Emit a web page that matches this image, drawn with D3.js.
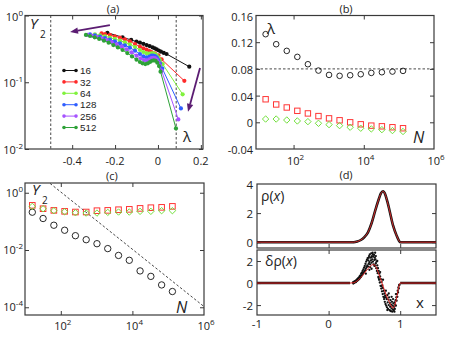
<!DOCTYPE html>
<html><head><meta charset="utf-8">
<script src="https://cdn.jsdelivr.net/npm/d3@7"></script>
<style>
body{margin:0;background:#fff}
svg{display:block;font-family:"Open Sans",sans-serif}
</style></head><body>
<svg id="fig" width="469" height="338"></svg>
<script>
// ---- panel (a): Y2 against lambda, one series per size
const sizes = [16, 32, 64, 128, 256, 512];
const lam16 = [-0.236, -0.165, -0.125, -0.100, -0.084, -0.068, -0.053, -0.039, -0.025, -0.015, -0.006, 0.004, 0.014, 0.027, 0.040, 0.146];
const y2_16 = [0.552, 0.471, 0.430, 0.406, 0.392, 0.377, 0.361, 0.348, 0.333, 0.322, 0.311, 0.299, 0.287, 0.275, 0.265, 0.171];
const lam32 = [-0.263, -0.247, -0.224, -0.201, -0.177, -0.154, -0.131, -0.107, -0.084, -0.068, -0.053, -0.040, -0.030, -0.014, 0.002, 0.017, 0.123];
const y2_32 = [0.541, 0.528, 0.511, 0.488, 0.466, 0.440, 0.410, 0.374, 0.341, 0.322, 0.308, 0.294, 0.284, 0.271, 0.253, 0.220, 0.105];
const lam64 = [-0.294, -0.270, -0.247, -0.224, -0.201, -0.177, -0.154, -0.131, -0.107, -0.084, -0.068, -0.053, -0.040, -0.030, -0.022, -0.014, -0.006, 0.002, 0.009, 0.022, 0.115];
const y2_64 = [0.522, 0.505, 0.488, 0.466, 0.445, 0.420, 0.396, 0.370, 0.337, 0.304, 0.284, 0.271, 0.268, 0.271, 0.271, 0.265, 0.253, 0.236, 0.215, 0.187, 0.066];
const lam128 = [-0.317, -0.294, -0.270, -0.247, -0.224, -0.201, -0.177, -0.154, -0.131, -0.107, -0.084, -0.068, -0.053, -0.040, -0.030, -0.022, -0.014, -0.006, 0.002, 0.009, 0.020, 0.107];
const y2_128 = [0.522, 0.505, 0.482, 0.460, 0.435, 0.410, 0.383, 0.357, 0.330, 0.297, 0.265, 0.244, 0.236, 0.242, 0.250, 0.250, 0.247, 0.236, 0.215, 0.192, 0.161, 0.0406];
const lam256 = [-0.329, -0.309, -0.286, -0.263, -0.239, -0.216, -0.193, -0.169, -0.146, -0.123, -0.100, -0.081, -0.065, -0.053, -0.040, -0.030, -0.022, -0.014, -0.006, 0.002, 0.009, 0.017, 0.095];
const y2_256 = [0.511, 0.499, 0.477, 0.455, 0.430, 0.401, 0.370, 0.341, 0.311, 0.281, 0.250, 0.228, 0.215, 0.213, 0.220, 0.231, 0.233, 0.231, 0.220, 0.201, 0.179, 0.149, 0.0277];
const lam512 = [-0.336, -0.317, -0.295, -0.274, -0.252, -0.230, -0.208, -0.187, -0.165, -0.143, -0.121, -0.100, -0.084, -0.072, -0.059, -0.047, -0.037, -0.028, -0.019, -0.011, -0.003, 0.005, 0.012, 0.084];
const y2_512 = [0.511, 0.493, 0.471, 0.445, 0.420, 0.392, 0.361, 0.333, 0.304, 0.274, 0.244, 0.218, 0.201, 0.192, 0.187, 0.192, 0.201, 0.210, 0.213, 0.210, 0.196, 0.175, 0.144, 0.0203];
const lamCritical = [-0.5, 0.085];
const arrowFrom = [[-0.224, 0.72], [0.196, 0.163]];
const arrowTo = [[-0.41, 0.566], [0.14, 0.036]];

// ---- panels (b) and (c): against system size N
const sizesN = [16, 32, 64, 128, 256, 512, 1024, 2048, 4096, 8192, 16384, 32768, 65536, 131072];
const lamN = [0.132, 0.117, 0.107, 0.098, 0.087, 0.0775, 0.071, 0.0696, 0.0705, 0.072, 0.074, 0.075, 0.076, 0.077];
const redB = [0.0345, 0.0267, 0.0222, 0.0172, 0.0133, 0.0093, 0.0059, 0.003, 0.0, -0.003, -0.005, -0.006, -0.0074, -0.0089];
const greenB = [0.0049, 0.0049, 0.0034, 0.002, 0.001, -0.0015, -0.0035, -0.005, -0.0074, -0.0089, -0.0099, -0.011, -0.0124, -0.0138];
const lamLimit = 0.08;
const blackC = [0.209, 0.126, 0.0733, 0.049, 0.0316, 0.0229, 0.0166, 0.0112, 0.00646, 0.00437, 0.00186, 0.0012, 0.000603, 0.000355];
const redC = [0.363, 0.277, 0.242, 0.224, 0.212, 0.212, 0.236, 0.242, 0.255, 0.263, 0.284, 0.300, 0.309, 0.334];
const greenC = [0.334, 0.277, 0.236, 0.217, 0.200, 0.195, 0.195, 0.206, 0.212, 0.212, 0.224, 0.224, 0.236, 0.236];
const refN = [40, 1e6];
const refY = [2.65, 1.06e-4];

// ---- panel (d): density and its deviation
const rhoX = [-1, 0.35, 0.40, 0.45, 0.50, 0.55, 0.60, 0.65, 0.70, 0.73, 0.76, 0.79, 0.82, 0.85, 0.90, 0.95, 0.98, 1.00, 1.5];
const rhoY = [0, 0, 0.05, 0.15, 0.35, 0.68, 1.3, 2.15, 2.95, 3.35, 3.5, 3.3, 2.8, 2.2, 1.15, 0.45, 0.12, 0, 0];
const drhoX = [-1, 0.30, 0.35, 0.40, 0.45, 0.50, 0.55, 0.60, 0.63, 0.66, 0.70, 0.745, 0.80, 0.85, 0.90, 0.93, 0.96, 0.98, 1.00, 1.5];
const drhoY = [0, 0, 0.03, 0.2, 0.5, 0.9, 1.3, 1.62, 1.68, 1.5, 0.85, 0, -1.0, -1.75, -2.27, -1.9, -1.0, -0.35, 0, 0];
const drhoDots = [
  [0.340,0.05],[0.345,-0.04],[0.350,0.08],[0.355,0.02],[0.360,0.14],[0.365,0.05],[0.370,0.12],[0.375,0.20],
  [0.380,0.08],[0.385,0.25],[0.390,0.16],[0.395,0.30],[0.400,0.22],[0.405,0.38],[0.410,0.27],[0.415,0.45],
  [0.420,0.33],[0.425,0.52],[0.430,0.40],[0.435,0.62],[0.440,0.48],[0.445,0.70],[0.450,0.55],[0.455,0.85],
  [0.460,0.66],[0.465,0.95],[0.470,0.72],[0.475,1.10],[0.480,0.85],[0.485,1.25],[0.490,0.95],[0.495,1.40],
  [0.500,1.05],[0.505,1.55],[0.510,1.15],[0.515,1.75],[0.520,1.30],[0.525,1.95],[0.530,1.45],[0.535,2.10],
  [0.540,1.60],[0.545,2.25],[0.550,1.50],[0.555,2.05],[0.560,1.75],[0.565,2.45],[0.570,1.90],[0.575,2.60],
  [0.580,1.70],[0.585,2.30],[0.590,2.05],[0.595,2.70],[0.600,1.85],[0.605,2.45],[0.610,2.15],[0.615,2.75],
  [0.620,1.95],[0.625,2.40],[0.630,1.70],[0.635,2.55],[0.640,2.10],[0.645,2.30],[0.650,1.60],[0.655,2.15],
  [0.660,1.80],[0.665,1.35],[0.670,1.95],[0.675,1.10],[0.680,1.60],[0.685,0.90],[0.690,1.35],[0.695,0.55],
  [0.700,1.10],[0.705,0.30],[0.710,0.85],[0.715,0.05],[0.720,0.60],[0.725,-0.25],[0.730,0.35],[0.735,-0.50],
  [0.740,0.10],[0.745,-0.75],[0.750,-0.20],[0.755,-1.00],[0.760,-0.45],[0.765,-1.25],[0.770,-0.70],[0.775,-1.45],
  [0.780,-0.95],[0.785,-1.70],[0.790,-1.15],[0.795,-1.90],[0.800,-1.30],[0.805,-2.05],[0.810,-1.45],[0.815,-2.20],
  [0.820,-1.10],[0.825,-1.75],[0.830,-2.35],[0.835,-1.50],[0.840,-2.00],[0.845,-1.30],[0.850,-2.45],[0.855,-1.80],
  [0.860,-2.15],[0.865,-1.55],[0.870,-2.55],[0.875,-1.95],[0.880,-2.30],[0.885,-1.70],[0.890,-2.60],[0.895,-2.05],
  [0.900,-2.40],[0.905,-1.85],[0.910,-2.50],[0.915,-2.15],[0.920,-1.75],[0.925,-2.35],[0.930,-1.95],[0.935,-1.55],
  [0.940,-2.05],[0.945,-1.30],[0.950,-1.60],[0.955,-1.00],[0.960,-1.25],[0.965,-0.70],[0.970,-0.85],[0.975,-0.40],
  [0.980,-0.50],[0.985,-0.20],[0.990,-0.15],
  [0.52,0.85],[0.56,2.3],[0.58,1.45],[0.60,2.35],[0.62,2.6],[0.64,1.55],[0.66,2.45],[0.68,2.0],[0.70,0.45],
  [0.72,1.0],[0.74,-0.3],[0.76,0.3],[0.78,-1.3],[0.80,-0.7],[0.82,-2.45],[0.84,-0.95],[0.86,-2.5],[0.88,-1.25],
  [0.90,-1.45],[0.92,-2.6],[0.94,-1.0],[0.60,1.3],[0.65,2.75],[0.57,1.2]];

const sizeColors = ["#111111", "#ff2a2a", "#80f23c", "#2f5eff", "#a653ff", "#2ea238"];
const frameColor = "#3a3a3a";
const svg = d3.select("#fig");

// scales
const xa = d3.scaleLinear().domain([-0.62, 0.21]).range([25, 203]);
const ya = d3.scaleLog().domain([0.01, 1]).range([149, 15.5]);
const xb = d3.scaleLog().domain([Math.pow(10, 0.93), 1e6]).range([256, 434]);
const yb = d3.scaleLinear().domain([-0.04, 0.16]).range([149, 15.5]);
const xc = d3.scaleLog().domain([10, 1e6]).range([25, 204]);
const yc = d3.scaleLog().domain([Math.pow(10, -4.27), Math.pow(10, 0.34)]).range([315, 183]);
const xd = d3.scaleLinear().domain([-1, 1.5]).range([257, 436]);
const yd1 = d3.scaleLinear().domain([-0.4, 4]).range([248, 184]);
const yd2 = d3.scaleLinear().domain([-2.9, 3.0]).range([315, 250]);

// inward ticks on all four sides
function ticks(x, y, xt, yt, sides) {
  const g = svg.append("g").attr("stroke", frameColor);
  const [x0, x1] = x.range(), [y1, y0] = y.range();
  const s = sides || "tblr";
  const noLab = a => a.tickFormat("").tickSizeOuter(0);
  if (s.includes("b")) g.append("g").attr("transform", `translate(0,${y1})`).call(noLab(d3.axisBottom(x).tickValues(xt).tickSize(-4)));
  if (s.includes("t")) g.append("g").attr("transform", `translate(0,${y0})`).call(noLab(d3.axisTop(x).tickValues(xt).tickSize(-4)));
  if (s.includes("l")) g.append("g").attr("transform", `translate(${x0},0)`).call(noLab(d3.axisLeft(y).tickValues(yt).tickSize(-4)));
  if (s.includes("r")) g.append("g").attr("transform", `translate(${x1},0)`).call(noLab(d3.axisRight(y).tickValues(yt).tickSize(-4)));
  g.selectAll(".domain").remove();
  g.selectAll("line").attr("stroke", frameColor);
  svg.append("rect").attr("x", x0).attr("y", y0).attr("width", x1 - x0).attr("height", y1 - y0)
    .attr("fill", "none").attr("stroke", frameColor).attr("stroke-width", 1.2);
}

function label(x, y, txt, anchor, size) {
  return svg.append("text").attr("x", x).attr("y", y).attr("text-anchor", anchor || "middle")
    .attr("font-size", size || 11).attr("fill", "#222").text(txt);
}
function powLabel(x, y, e, anchor) {
  const t = svg.append("text").attr("x", x).attr("y", y).attr("text-anchor", anchor || "middle")
    .attr("font-size", 11).attr("fill", "#222");
  t.append("tspan").text("10");
  t.append("tspan").attr("dy", -5).attr("font-size", 8).text(e);
  return t;
}
const fmt = v => (v < 0 ? "-" : "") + String(Math.abs(v));

// ---------- panel (a)
svg.append("clipPath").attr("id", "clipA").append("rect")
  .attr("x", 25).attr("y", 15.5).attr("width", 178).attr("height", 133.5);
ticks(xa, ya, [-0.4, -0.2, 0, 0.2], [1, 0.1, 0.01]);
const gA = svg.append("g").attr("clip-path", "url(#clipA)");
lamCritical.forEach(v => gA.append("line").attr("x1", xa(v)).attr("x2", xa(v)).attr("y1", 15.5).attr("y2", 149)
  .attr("stroke", "#333").attr("stroke-width", 0.9).attr("stroke-dasharray", "2.5,2"));
const seriesA = [[lam16, y2_16], [lam32, y2_32], [lam64, y2_64], [lam128, y2_128], [lam256, y2_256], [lam512, y2_512]];
seriesA.forEach(([lx, ly], i) => {
  const pts = lx.map((v, j) => [v, ly[j]]);
  gA.append("path").datum(pts).attr("fill", "none").attr("stroke", sizeColors[i]).attr("stroke-width", 1)
    .attr("d", d3.line().x(d => xa(d[0])).y(d => ya(d[1])));
  gA.selectAll(null).data(pts).enter().append("circle")
    .attr("cx", d => xa(d[0])).attr("cy", d => ya(d[1])).attr("r", 2.1).attr("fill", sizeColors[i]);
});
// arrows
arrowFrom.forEach((f, i) => {
  const x1 = xa(f[0]), y1 = ya(f[1]), x2 = xa(arrowTo[i][0]), y2 = ya(arrowTo[i][1]);
  const ang = Math.atan2(y2 - y1, x2 - x1), L = 8, W = 3.2;
  const bx = x2 - L * Math.cos(ang), by = y2 - L * Math.sin(ang);
  svg.append("line").attr("x1", x1).attr("y1", y1).attr("x2", bx).attr("y2", by)
    .attr("stroke", "#5b1c72").attr("stroke-width", 1.8);
  svg.append("path").attr("fill", "#5b1c72")
    .attr("d", `M${x2},${y2}L${bx - W * Math.sin(ang)},${by + W * Math.cos(ang)}L${bx + W * Math.sin(ang)},${by - W * Math.cos(ang)}Z`);
});
// legend
sizes.forEach((n, i) => {
  const yy = 70.5 + i * 11.4;
  svg.append("line").attr("x1", 64).attr("x2", 76).attr("y1", yy).attr("y2", yy).attr("stroke", sizeColors[i]).attr("stroke-width", 1);
  [64, 76].forEach(cx => svg.append("circle").attr("cx", cx).attr("cy", yy).attr("r", 1.8).attr("fill", sizeColors[i]));
  label(80, yy + 3.6, String(n), "start", 9.8).attr("font-family", '"Liberation Sans", Arial, sans-serif');
});
[-0.4, -0.2, 0, 0.2].forEach(v => label(xa(v), 164.5, fmt(v)));
[[1, "0"], [0.1, "-1"], [0.01, "-2"]].forEach(([v, e]) => powLabel(23, ya(v) + 5, e, "end"));
label(113, 13, "(a)");
label(30, 28.5, "Y", "start", 15).attr("font-style", "italic");
label(40, 38, "2", "start", 10);
label(183, 142, "λ", "start", 15);

// ---------- panel (b)
ticks(xb, yb, [1e2, 1e4], [0.12, 0.08, 0.04, 0]);
svg.append("line").attr("x1", 256).attr("x2", 434).attr("y1", yb(lamLimit)).attr("y2", yb(lamLimit))
  .attr("stroke", "#333").attr("stroke-width", 0.9).attr("stroke-dasharray", "2.5,2");
const gB = svg.append("g");
gB.selectAll(null).data(sizesN).enter().append("circle")
  .attr("cx", d => xb(d)).attr("cy", (d, i) => yb(lamN[i])).attr("r", 2.8)
  .attr("fill", "none").attr("stroke", "#111").attr("stroke-width", 0.9);
gB.selectAll(null).data(sizesN).enter().append("rect")
  .attr("x", d => xb(d) - 2.7).attr("y", (d, i) => yb(redB[i]) - 2.7).attr("width", 5.4).attr("height", 5.4)
  .attr("fill", "none").attr("stroke", "#ff3535").attr("stroke-width", 1);
gB.selectAll(null).data(sizesN).enter().append("path")
  .attr("d", d3.symbol(d3.symbolDiamond2, 26)).attr("transform", (d, i) => `translate(${xb(d)},${yb(greenB[i])})`)
  .attr("fill", "none").attr("stroke", "#72e03c").attr("stroke-width", 1);
[0.16, 0.12, 0.08, 0.04, 0, -0.04].forEach(v => label(253, yb(v) + 5, fmt(v), "end"));
[[1e2, "2"], [1e4, "4"], [1e6, "6"]].forEach(([v, e]) => powLabel(xb(v) + 2, 165, e));
label(346, 13, "(b)");
label(267, 34, "λ", "start", 15);
label(413, 143, "N", "start", 16).attr("font-style", "italic");

// ---------- panel (c)
ticks(xc, yc, [1e2, 1e4], [1, 1e-2, 1e-4]);
svg.append("clipPath").attr("id", "clipC").append("rect")
  .attr("x", 25).attr("y", 183).attr("width", 179).attr("height", 132);
svg.append("g").attr("clip-path", "url(#clipC)").append("path")
  .datum(refN.map((n, i) => [n, refY[i]]))
  .attr("d", d3.line().x(d => xc(d[0])).y(d => yc(d[1])))
  .attr("stroke", "#333").attr("stroke-width", 0.9).attr("stroke-dasharray", "2.5,2").attr("fill", "none");
const gC = svg.append("g");
gC.selectAll(null).data(sizesN).enter().append("circle")
  .attr("cx", d => xc(d)).attr("cy", (d, i) => yc(blackC[i])).attr("r", 3.2)
  .attr("fill", "none").attr("stroke", "#111").attr("stroke-width", 0.9);
gC.selectAll(null).data(sizesN).enter().append("rect")
  .attr("x", d => xc(d) - 2.8).attr("y", (d, i) => yc(redC[i]) - 2.8).attr("width", 5.6).attr("height", 5.6)
  .attr("fill", "none").attr("stroke", "#ff3535").attr("stroke-width", 1);
gC.selectAll(null).data(sizesN).enter().append("path")
  .attr("d", d3.symbol(d3.symbolDiamond2, 26)).attr("transform", (d, i) => `translate(${xc(d)},${yc(greenC[i])})`)
  .attr("fill", "none").attr("stroke", "#72e03c").attr("stroke-width", 1);
[[1, "0"], [1e-2, "-2"], [1e-4, "-4"]].forEach(([v, e]) => powLabel(23, yc(v) + 4, e, "end"));
[[1e2, "2"], [1e4, "4"], [1e6, "6"]].forEach(([v, e]) => powLabel(xc(v) + 2, 330, e));
label(112, 180, "(c)");
label(32, 195, "Y", "start", 15).attr("font-style", "italic");
label(42, 204, "2", "start", 10);
label(176, 313, "N", "start", 16).attr("font-style", "italic");

// ---------- panel (d)
ticks(xd, yd1, [0, 1], [0, 2], "blr");
ticks(xd, yd2, [0, 1], [-2, 0, 2], "tblr");
const rhoLine = d3.line().x(d => xd(d[0])).y(d => yd1(d[1])).curve(d3.curveMonotoneX);
const rhoPts = rhoX.map((v, i) => [v, rhoY[i]]);
svg.append("path").datum(rhoPts).attr("d", rhoLine).attr("fill", "none").attr("stroke", "#141414").attr("stroke-width", 2.6);
svg.append("path").datum(rhoPts).attr("d", rhoLine).attr("fill", "none").attr("stroke", "#d42a2a").attr("stroke-width", 1);
const drhoLine = d3.line().x(d => xd(d[0])).y(d => yd2(d[1])).curve(d3.curveMonotoneX);
const drhoPts = drhoX.map((v, i) => [v, drhoY[i]]);
[drhoPts.filter(d => d[0] <= 0.30), drhoPts.filter(d => d[0] >= 1.0)].forEach(seg =>
  svg.append("path").datum(seg).attr("d", drhoLine).attr("fill", "none").attr("stroke", "#141414").attr("stroke-width", 2.6));
svg.selectAll(null).data(drhoDots).enter().append("circle")
  .attr("cx", d => xd(d[0])).attr("cy", d => yd2(d[1])).attr("r", 1.15).attr("fill", "#111");
svg.append("path").datum(drhoPts).attr("d", drhoLine).attr("fill", "none").attr("stroke", "#e02020").attr("stroke-width", 1);
[4, 2, 0].forEach(v => label(253, yd1(v) + 4.5, String(v), "end", 11.5));
[2, 0, -2].forEach(v => label(253, yd2(v) + 4.5, fmt(v), "end", 11.5));
[-1, 0, 1].forEach(v => label(xd(v), 328, fmt(v), "middle", 11.5));
label(346, 179, "(d)");
const rl = label(261, 201, "ρ(", "start", 14);
rl.append("tspan").attr("font-style", "italic").text("x");
rl.append("tspan").text(")");
const dl = label(265, 266, "δρ(", "start", 14);
dl.append("tspan").attr("font-style", "italic").text("x");
dl.append("tspan").text(")");
label(416, 308, "x", "start", 15);
</script>
</body></html>
